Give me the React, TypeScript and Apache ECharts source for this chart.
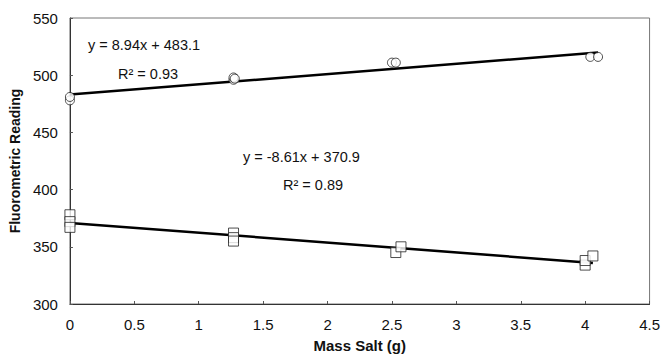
import React, { useEffect, useRef } from "react";
import * as echarts from "echarts";

const circleX = [0, 0, 1.27, 1.27, 1.28, 2.5, 2.53, 4.04, 4.1];
const circleY = [478, 481, 496, 498, 497, 511, 511, 516, 516];
const squareX = [0, 0, 0, 1.27, 1.27, 1.27, 2.53, 2.57, 4.0, 4.0, 4.06];
const squareY = [378, 372, 367, 362, 358, 355, 345, 350, 334, 338, 342];
const fitTop = { slope: 8.94, intercept: 483.1, xEnd: 4.1 };
const fitBottom = { slope: -8.61, intercept: 370.9, xEnd: 4.06 };
const eqTop = ["y = 8.94x + 483.1", "R² = 0.93"];
const eqBottom = ["y = -8.61x + 370.9", "R² = 0.89"];

export default function App() {
  const ref = useRef<HTMLDivElement>(null);
  useEffect(() => {
    const chart = echarts.init(ref.current!, null, { renderer: "svg" });
    const font = "Liberation Sans, Arial, sans-serif";
    const line = (f: typeof fitTop) => [
      [0, f.intercept],
      [f.xEnd, f.intercept + f.slope * f.xEnd],
    ];
    chart.setOption({
      animation: false,
      backgroundColor: "#fff",
      grid: { left: 68, right: 8, top: 18, bottom: 51, show: true, borderColor: "#777", borderWidth: 1 },
      xAxis: {
        type: "value",
        min: 0,
        max: 4.5,
        interval: 0.5,
        name: "Mass Salt (g)",
        nameLocation: "middle",
        nameGap: 34,
        nameTextStyle: { fontFamily: font, fontWeight: "bold", fontSize: 15, color: "#111" },
        axisLine: { show: true, lineStyle: { color: "#333" } },
        axisTick: { show: true, inside: true, length: 3, lineStyle: { color: "#555" } },
        axisLabel: { fontFamily: font, fontSize: 15, color: "#111", margin: 13 },
        splitLine: { show: false },
      },
      yAxis: {
        type: "value",
        min: 300,
        max: 550,
        interval: 50,
        name: "Fluorometric Reading",
        nameLocation: "middle",
        nameGap: 47,
        nameTextStyle: { fontFamily: font, fontWeight: "bold", fontSize: 14, color: "#111" },
        axisLine: { show: true, lineStyle: { color: "#333" } },
        axisTick: { show: true, inside: true, length: 3, lineStyle: { color: "#555" } },
        axisLabel: { fontFamily: font, fontSize: 15, color: "#111", margin: 12 },
        splitLine: { show: false },
      },
      series: [
        {
          type: "line",
          data: line(fitTop),
          symbol: "none",
          lineStyle: { color: "#000", width: 2.5 },
          z: 3,
        },
        {
          type: "line",
          data: line(fitBottom),
          symbol: "none",
          lineStyle: { color: "#000", width: 2.5 },
          z: 3,
        },
        {
          type: "scatter",
          data: circleX.map((x, i) => [x, circleY[i]]),
          symbol: "circle",
          symbolSize: 9,
          itemStyle: { color: "#fff", borderColor: "#222", borderWidth: 1 },
          z: 4,
        },
        {
          type: "scatter",
          data: squareX.map((x, i) => [x, squareY[i]]),
          symbol: "rect",
          symbolSize: 10,
          itemStyle: { color: "#fff", borderColor: "#222", borderWidth: 1 },
          z: 4,
        },
      ],
      graphic: [
        { type: "text", left: 88, top: 37, style: { text: eqTop[0], fontFamily: font, fontSize: 14.5, fill: "#111" } },
        { type: "text", left: 118, top: 66, style: { text: eqTop[1], fontFamily: font, fontSize: 14.5, fill: "#111" } },
        { type: "text", left: 243, top: 149, style: { text: eqBottom[0], fontFamily: font, fontSize: 14.5, fill: "#111" } },
        { type: "text", left: 283, top: 177, style: { text: eqBottom[1], fontFamily: font, fontSize: 14.5, fill: "#111" } },
      ],
    });
    return () => chart.dispose();
  }, []);
  return <div ref={ref} style={{ position: "fixed", left: 0, top: 0, width: 663, height: 358 }} />;
}
